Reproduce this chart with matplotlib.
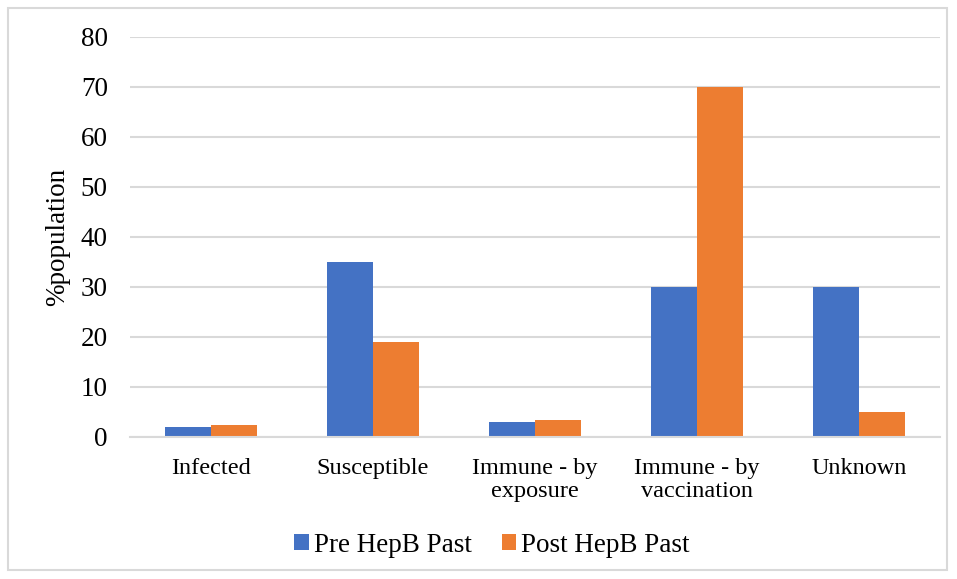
import matplotlib
matplotlib.use("Agg")
import matplotlib.pyplot as plt
from matplotlib.patches import Rectangle
import numpy as np

categories = ["Infected", "Susceptible", "Immune - by\nexposure", "Immune - by\nvaccination", "Unknown"]
pre_values = [2, 35, 3, 30, 30]
post_values = [2.5, 19, 3.5, 70, 5]
series_names = ["Pre HepB Past", "Post HepB Past"]
y_ticks = [0, 10, 20, 30, 40, 50, 60, 70, 80]

BLUE = "#4472C4"
ORANGE = "#ED7D31"
GRID = "#D9D9D9"

plt.rcParams["font.family"] = ["Liberation Serif", "DejaVu Serif"]

fig = plt.figure(figsize=(9.57, 5.79), dpi=100)
ax = fig.add_axes([130 / 957, 1 - 437 / 579, 810 / 957, 400 / 579])

x = np.arange(len(categories))
w = 0.284
ax.bar(x - w / 2, pre_values, width=w, color=BLUE, label=series_names[0], zorder=3)
ax.bar(x + w / 2, post_values, width=w, color=ORANGE, label=series_names[1], zorder=3)

ax.set_xlim(-0.5, len(categories) - 0.5)
ax.set_ylim(0, 80)
ax.set_yticks(y_ticks)
ax.set_xticks(x)
ax.set_xticklabels(categories, fontsize=17.5, linespacing=1.15)
ax.tick_params(axis="y", labelsize=19.5, length=0, pad=16)
ax.tick_params(axis="x", length=0, pad=15)
ax.grid(axis="y", color=GRID, linewidth=1.5, zorder=0)
for s in ["left", "right", "top"]:
    ax.spines[s].set_visible(False)
ax.spines["bottom"].set_color(GRID)
ax.spines["bottom"].set_linewidth(1.5)
ax.spines["bottom"].set_zorder(4)

ax.set_ylabel("%population", fontsize=19.5)
ax.yaxis.set_label_coords((70 - 130) / 810, 0.5)

fig.legend(loc="center", bbox_to_anchor=(492 / 957, 1 - 545 / 579), ncol=2,
           frameon=False, fontsize=19.5, handlelength=0.52, handleheight=0.52,
           handletextpad=0.2, columnspacing=1.1)

fig.patches.append(Rectangle((8 / 957, 9 / 579), 939 / 957, 562 / 579,
                             transform=fig.transFigure, fill=False,
                             edgecolor=GRID, linewidth=1.5))

fig.savefig("out.png", dpi=100)
